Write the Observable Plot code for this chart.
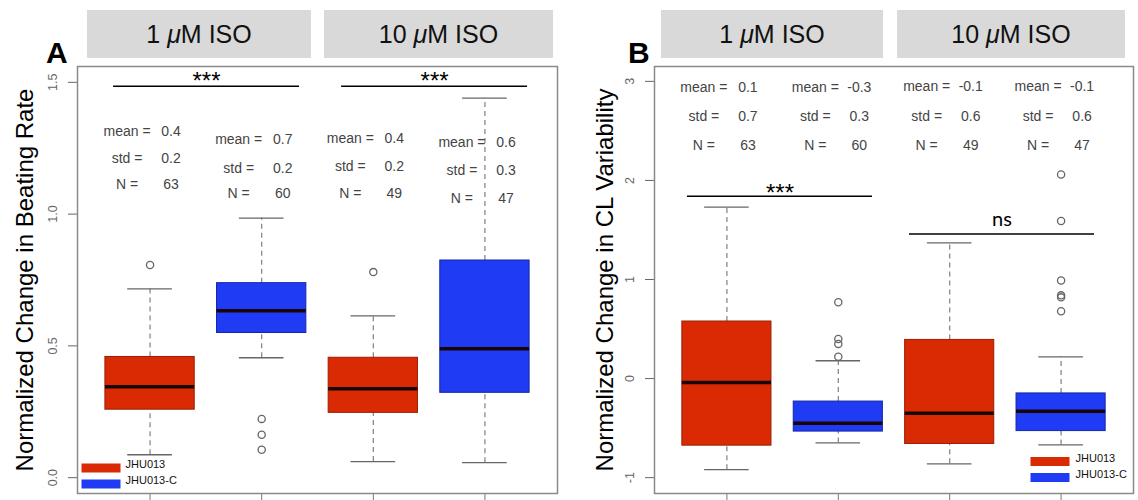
<!DOCTYPE html>
<html><head><meta charset="utf-8">
<script src="https://cdn.jsdelivr.net/npm/d3@7"></script>
<script src="https://cdn.jsdelivr.net/npm/@observablehq/plot@0.6"></script>
<style>
body{margin:0;background:#fff;font-family:"Liberation Sans",Arial,sans-serif;}
#wrap{position:relative;width:1138px;height:500px;overflow:hidden;background:#fff}
.panel{position:absolute;top:0;width:569px;height:500px}
.head{position:absolute;top:10px;height:48px;line-height:48px;background:#d9d9d9;text-align:center;font-size:25px;color:#111;white-space:nowrap}
.tag{position:absolute;top:38px;font-weight:bold;font-size:30px;line-height:30px;color:#000}
.svgbox{position:absolute;top:60px;left:0}
</style></head>
<body><div id="wrap"></div>
<script>
// ---------- data ----------
const concentrations = ["1 μM ISO", "10 μM ISO"];
const cellLines = ["JHU013", "JHU013-C"];
const groupPos = [1, 2, 3, 4];
const groupLine = ["JHU013", "JHU013-C", "JHU013", "JHU013-C"];
const statLabels = ["mean =", "std =", "N ="];

// Panel A: Normalized Change in Beating Rate
const aTitle = "Normalized Change in Beating Rate";
const aTicks = [0, 0.5, 1, 1.5];
const aQ1  = [0.258, 0.549, 0.246, 0.322];
const aMed = [0.345, 0.633, 0.337, 0.489];
const aQ3  = [0.458, 0.738, 0.455, 0.824];
const aLo  = [0.087, 0.455, 0.061, 0.057];
const aHi  = [0.716, 0.985, 0.614, 1.440];
const aOutGroup = [1, 2, 2, 2, 3];
const aOutVal   = [0.807, 0.223, 0.163, 0.106, 0.780];
const aMean = ["0.4", "0.7", "0.4", "0.6"];
const aStd  = ["0.2", "0.2", "0.2", "0.3"];
const aN    = ["63", "60", "49", "47"];
const aSigLabel = ["***", "***"];

// Panel B: Normalized Change in CL Variability
const bTitle = "Normalized Change in CL Variability";
const bTicks = [-1, 0, 1, 2, 3];
const bQ1  = [-0.677, -0.535, -0.660, -0.530];
const bMed = [-0.040, -0.450, -0.350, -0.330];
const bQ3  = [0.576, -0.232, 0.390, -0.150];
const bLo  = [-0.920, -0.650, -0.860, -0.670];
const bHi  = [1.730, 0.180, 1.370, 0.220];
const bOutGroup = [2, 2, 2, 2, 4, 4, 4, 4, 4, 4];
const bOutVal   = [0.77, 0.40, 0.35, 0.22, 2.06, 1.59, 0.99, 0.84, 0.82, 0.68];
const bMean = ["0.1", "-0.3", "-0.1", "-0.1"];
const bStd  = ["0.7", "0.3", "0.6", "0.6"];
const bN    = ["63", "60", "49", "47"];
const bSigLabel = ["***", "ns"];

// ---------- layout (annotation placement, styles) ----------
const colors = {"JHU013": "#da2a04", "JHU013-C": "#1f3cf4"};
const borders = {"JHU013": "#9a1e03", "JHU013-C": "#1426a8"};
const layoutA = {
  left: 0, ml: 77, mr: 12, ydom: [-0.06, 1.56], fmt: d3.format(".1f"), titleDx: -52,
  heads: [[87, 311], [324, 553]], tag: "A", tagX: 46,
  statY: [[1.314, 1.212, 1.114], [1.284, 1.174, 1.080], [1.288, 1.182, 1.080], [1.273, 1.167, 1.060]],
  sigX1: [0.673, 2.716], sigX2: [2.339, 4.382], sigY: [1.485, 1.485], sigTextY: [1.474, 1.474],
  legend: {anchor: "bottom-left", sx: 23.5, tx: 48, y: [-25.5, -9.5]}
};
const layoutB = {
  left: 569, ml: 85, mr: 5, ydom: [-1.16, 3.15], fmt: d => String(d), titleDx: -49,
  heads: [[92, 314], [328, 556]], tag: "B", tagX: 59,
  statY: [[2.94, 2.65, 2.35], [2.94, 2.65, 2.35], [2.95, 2.65, 2.35], [2.95, 2.65, 2.35]],
  sigX1: [0.646, 2.639], sigX2: [2.307, 4.300], sigY: [1.84, 1.46], sigTextY: [1.79, 1.545],
  legend: {anchor: "bottom-right", sx: -83.5, tx: -58, y: [-32, -16]}
};
const sigFont = {"***": {family: '"Liberation Sans", Arial, sans-serif', size: 24}, "ns": {family: "Lato, sans-serif", size: 20}};

const rectSymbol = {draw(ctx) { ctx.rect(-19.5, -4.5, 39, 9); }};

function makePanel(L, title, ticks, q1, med, q3, lo, hi, outG, outV, mean, std, n, sigLabel) {
  const boxes = groupPos.map((p, i) => ({pos: p, line: groupLine[i], q1: q1[i], med: med[i], q3: q3[i], lo: lo[i], hi: hi[i]}));
  const outs = outG.map((g, i) => ({pos: g, v: outV[i]}));
  const stats = [];
  groupPos.forEach((p, i) => {
    [mean[i], std[i], n[i]].forEach((val, k) => stats.push({pos: p, y: L.statY[i][k], label: statLabels[k], value: val}));
  });
  const sig = sigLabel.map((s, i) => ({label: s, x1: L.sigX1[i], x2: L.sigX2[i], y: L.sigY[i], ty: L.sigTextY[i]}));

  const legendMarks = cellLines.flatMap((c, k) => [
    Plot.dot([c], {frameAnchor: L.legend.anchor, dx: L.legend.sx, dy: L.legend.y[k], symbol: rectSymbol, fill: colors[c], stroke: "none"}),
    Plot.text([c], {text: d => d, frameAnchor: L.legend.anchor, dx: L.legend.tx, dy: L.legend.y[k], textAnchor: "start", fontSize: 11, fill: "#111"})
  ]);
  const sigTextMarks = sig.map(s => Plot.text([s], {x: d => (d.x1 + d.x2) / 2, y: "ty", text: "label", lineAnchor: "bottom",
    fontFamily: sigFont[s.label].family, fontSize: sigFont[s.label].size, fill: "#000"}));

  return Plot.plot({
    width: 569, height: 440,
    marginLeft: L.ml, marginRight: L.mr, marginTop: 6, marginBottom: 7,
    x: {domain: [0.35, 4.65], axis: null},
    y: {domain: L.ydom, axis: null},
    style: {fontFamily: '"Liberation Sans", Arial, sans-serif', background: "transparent", overflow: "visible"},
    marks: [
      Plot.axisY({ticks: ticks, tickFormat: L.fmt, tickSize: 9, tickPadding: 12, tickRotate: -90, fontSize: 12.5, color: "#666", label: null}),
      Plot.axisX({ticks: groupPos, tickFormat: () => "", tickSize: 7, color: "#777", label: null}),
      Plot.text([title], {text: d => d, frameAnchor: "left", textAnchor: "middle", dx: L.titleDx, rotate: -90, fontSize: 24, fill: "#000"}),
      Plot.ruleX(boxes, {x: "pos", y1: "q3", y2: "hi", stroke: "#808080", strokeWidth: 1.2, strokeDasharray: "5,4"}),
      Plot.ruleX(boxes, {x: "pos", y1: "lo", y2: "q1", stroke: "#808080", strokeWidth: 1.2, strokeDasharray: "5,4"}),
      Plot.ruleY(boxes, {y: "hi", x1: d => d.pos - 0.2, x2: d => d.pos + 0.2, stroke: "#666", strokeWidth: 1.3}),
      Plot.ruleY(boxes, {y: "lo", x1: d => d.pos - 0.2, x2: d => d.pos + 0.2, stroke: "#666", strokeWidth: 1.3}),
      Plot.rect(boxes, {x1: d => d.pos - 0.4, x2: d => d.pos + 0.4, y1: "q1", y2: "q3", fill: d => colors[d.line], stroke: d => borders[d.line], strokeWidth: 1}),
      Plot.ruleY(boxes, {y: "med", x1: d => d.pos - 0.4, x2: d => d.pos + 0.4, stroke: "#1a0505", strokeWidth: 3.5}),
      Plot.dot(outs, {x: "pos", y: "v", r: 3.6, stroke: "#666", strokeWidth: 1.3, fill: "none"}),
      Plot.text(stats, {x: "pos", y: "y", text: "label", dx: -23, fontSize: 14, fill: "#444"}),
      Plot.text(stats, {x: "pos", y: "y", text: "value", dx: 21, fontSize: 14, fill: "#444"}),
      Plot.ruleY(sig, {y: "y", x1: "x1", x2: "x2", stroke: "#000", strokeWidth: 1.6}),
      ...sigTextMarks,
      ...legendMarks,
      Plot.frame({stroke: "#8a8a8a", strokeWidth: 1.5})
    ]
  });
}

function buildPanel(L, args) {
  const wrap = document.getElementById("wrap");
  const div = document.createElement("div");
  div.className = "panel";
  div.style.left = L.left + "px";
  const box = document.createElement("div");
  box.className = "svgbox";
  box.appendChild(makePanel(L, ...args));
  div.appendChild(box);
  concentrations.forEach((c, i) => {
    const h = document.createElement("div");
    h.className = "head";
    h.style.left = L.heads[i][0] + "px";
    h.style.width = (L.heads[i][1] - L.heads[i][0]) + "px";
    const parts = c.split("μ");
    h.innerHTML = parts[0] + "<i>μ</i>" + parts[1];
    div.appendChild(h);
  });
  const tag = document.createElement("div");
  tag.className = "tag";
  tag.style.left = L.tagX + "px";
  tag.textContent = L.tag;
  div.appendChild(tag);
  wrap.appendChild(div);
}

buildPanel(layoutA, [aTitle, aTicks, aQ1, aMed, aQ3, aLo, aHi, aOutGroup, aOutVal, aMean, aStd, aN, aSigLabel]);
buildPanel(layoutB, [bTitle, bTicks, bQ1, bMed, bQ3, bLo, bHi, bOutGroup, bOutVal, bMean, bStd, bN, bSigLabel]);
</script>
</body></html>
